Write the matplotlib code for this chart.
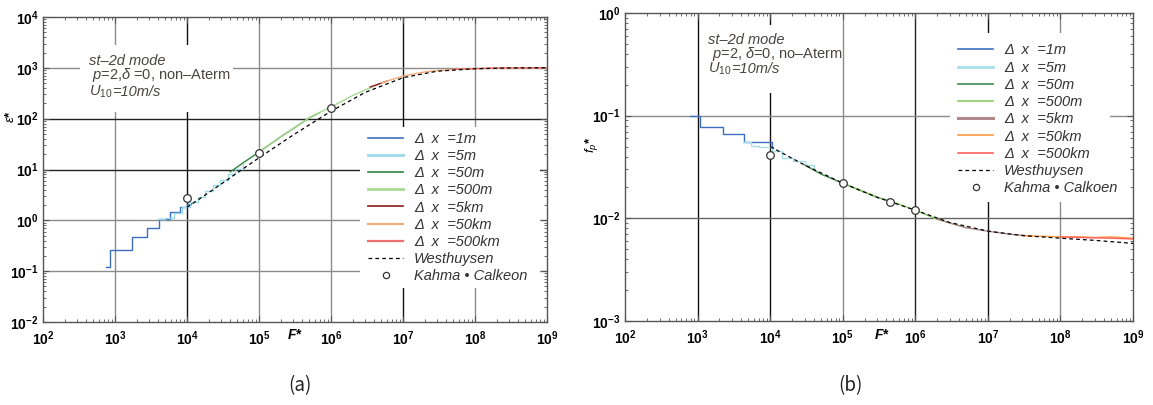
import matplotlib
matplotlib.use('Agg')
import matplotlib.pyplot as plt
from matplotlib.patches import Rectangle
from matplotlib.lines import Line2D

plt.rcParams['font.family'] = ['Liberation Sans', 'DejaVu Sans']
plt.rcParams['mathtext.fontset'] = 'custom'
plt.rcParams['mathtext.rm'] = 'Liberation Sans'
plt.rcParams['mathtext.it'] = 'Liberation Sans:italic'
plt.rcParams['mathtext.bf'] = 'Liberation Sans:bold'

# ---------------- data : panel (a)  epsilon* vs F* ----------------
a_F_1m = [750, 850, 1720, 2760, 4100, 5800, 8000, 10000, 11500]
a_E_1m = [0.12, 0.26, 0.47, 0.72, 1.05, 1.45, 1.86, 2.1, 2.2]
a_F_5m = [4000, 5000, 6500, 8500, 11000, 14000, 18000, 23000, 29000, 37000, 47000, 60000]
a_E_5m = [1.05, 1.1, 1.4, 1.8, 2.3, 2.9, 3.8, 4.9, 6.3, 8.0, 10.2, 13.0]
a_F_50m = [40000, 60000, 100000, 200000, 300000, 500000, 700000]
a_E_50m = [9.0, 13.5, 22.0, 44.0, 64.0, 104.0, 132.0]
a_F_500m = [100000, 200000, 300000, 500000, 700000, 1000000, 1500000, 2000000, 3000000, 5000000]
a_E_500m = [22.0, 44.0, 64.0, 104.0, 132.0, 170.0, 230.0, 285.0, 370.0, 500.0]
a_F_5km = [3500000, 5000000, 6000000]
a_E_5km = [420.0, 500.0, 550.0]
a_F_50km = [5000000, 7000000, 10000000, 20000000, 30000000, 50000000, 100000000, 200000000, 500000000, 1000000000]
a_E_50km = [500.0, 590.0, 690.0, 830.0, 880.0, 930.0, 960.0, 985.0, 995.0, 1000.0]
a_F_500km = [50000000, 100000000, 200000000, 300000000, 500000000, 1000000000]
a_E_500km = [930.0, 965.0, 990.0, 1000.0, 995.0, 1000.0]
a_F_west = [10000, 30000, 100000, 300000, 1000000, 3000000, 10000000, 30000000, 100000000, 300000000, 1000000000]
a_E_west = [1.8, 5.2, 17.0, 48.0, 140.0, 330.0, 640.0, 860.0, 960.0, 995.0, 1005.0]
a_F_kc = [10000, 100000, 1000000]
a_E_kc = [2.7, 21.5, 165.0]

# ---------------- data : panel (b)  fp* vs F* ----------------
b_F_1m = [790, 1080, 2240, 4300, 10500, 11000]
b_P_1m = [0.100, 0.078, 0.066, 0.055, 0.049, 0.048]
b_F_5m = [4200, 5500, 7000, 10500, 14600, 20400, 30000, 40000]
b_P_5m = [0.056, 0.051, 0.049, 0.045, 0.039, 0.036, 0.033, 0.031]
b_F_50m = [30000, 50000, 100000, 200000, 300000, 500000]
b_P_50m = [0.033, 0.027, 0.022, 0.018, 0.016, 0.0144]
b_F_500m = [100000, 200000, 300000, 500000, 1000000, 2000000, 5000000]
b_P_500m = [0.022, 0.018, 0.016, 0.0144, 0.0120, 0.0098, 0.0081]
b_F_5km = [2000000, 5000000, 10000000, 20000000, 40000000]
b_P_5km = [0.0098, 0.0081, 0.0075, 0.0070, 0.0067]
b_F_50km = [30000000, 50000000, 100000000, 200000000, 300000000, 500000000, 1000000000]
b_P_50km = [0.0068, 0.0067, 0.0066, 0.0066, 0.0065, 0.0066, 0.0064]
b_F_500km = [100000000, 200000000, 500000000, 1000000000]
b_P_500km = [0.0066, 0.0065, 0.0064, 0.0063]
b_F_west = [10000, 30000, 100000, 300000, 1000000, 3000000, 10000000, 30000000, 100000000, 300000000, 1000000000]
b_P_west = [0.050, 0.033, 0.022, 0.016, 0.012, 0.0091, 0.0075, 0.0068, 0.0064, 0.0061, 0.0057]
b_F_kc = [10000, 100000, 450000, 1000000]
b_P_kc = [0.041, 0.022, 0.0144, 0.012]

x_ticks = [1e2, 1e3, 1e4, 1e5, 1e6, 1e7, 1e8, 1e9]
x_ticklabels = [r'$\mathbf{10^{%d}}$' % k for k in range(2, 10)]
a_yticks = [1e-2, 1e-1, 1e0, 1e1, 1e2, 1e3, 1e4]
a_yticklabels = [r'$\mathbf{10^{%d}}$' % k for k in range(-2, 5)]
b_yticks = [1e-3, 1e-2, 1e-1, 1e0]
b_yticklabels = [r'$\mathbf{10^{%d}}$' % k for k in range(-3, 1)]

labels = ['Δ  x  =1m', 'Δ  x  =5m', 'Δ  x  =50m', 'Δ  x  =500m', 'Δ  x  =5km', 'Δ  x  =50km', 'Δ  x  =500km']

a_colors = ['#3d6fc0', '#9adbe8', '#2e8540', '#a8da90', '#8a1c1c', '#f5ad7a', '#f07070']
a_leg_lw = [1.2, 2.0, 1.2, 2.0, 1.2, 1.6, 1.6]
b_colors = ['#3d6fc0', '#a8e0ea', '#3f8a52', '#8cca66', '#b08a8a', '#ff9a40', '#ff6060']
b_leg_lw = [1.2, 2.0, 1.2, 1.2, 2.2, 1.2, 1.2]

W, H = 1153, 405
fig = plt.figure(figsize=(W / 100, H / 100), dpi=100)
axa = fig.add_axes([43 / W, 1 - 322 / H, 504 / W, 305 / H])
axb = fig.add_axes([625 / W, 1 - 321 / H, 508 / W, 308 / H])

def setup(ax, ylim, yticks, yticklabels, vcols, hcols):
    ax.set_xscale('log')
    ax.set_yscale('log')
    ax.set_xlim(1e2, 1e9)
    ax.set_ylim(*ylim)
    for xv, c in zip(x_ticks[1:-1], vcols):
        ax.axvline(xv, color=c, lw=1.0, zorder=0.5)
    for yv, c in zip(yticks[1:-1], hcols):
        ax.axhline(yv, color=c, lw=1.0, zorder=0.5)
    ax.set_xticks(x_ticks)
    ax.set_xticklabels(x_ticklabels, fontsize=10)
    ax.set_yticks(yticks)
    ax.set_yticklabels(yticklabels, fontsize=10)
    ax.tick_params(which='both', direction='in', top=True, right=True, colors='#555555', labelcolor='black')
    ax.tick_params(which='major', length=4)
    ax.tick_params(axis='x', which='major', pad=5.5)
    ax.tick_params(axis='y', which='major', pad=3)
    ax.tick_params(which='minor', length=2.5)
    for s in ax.spines.values():
        s.set_color('#555555')
        s.set_linewidth(1.0)

setup(axa, (1e-2, 1e4), a_yticks, a_yticklabels,
      ['#8c8c8c', '#111111', '#8c8c8c', '#8c8c8c', '#111111', '#8c8c8c'],
      ['#8c8c8c', '#8c8c8c', '#222222', '#222222', '#8c8c8c'])
setup(axb, (1e-3, 1e0), b_yticks, b_yticklabels,
      ['#111111', '#111111', '#8c8c8c', '#222222', '#111111', '#8c8c8c'],
      ['#666666', '#8c8c8c'])

# white boxes behind annotation and legend
axa.add_patch(Rectangle((0.073, 0.69), 0.304, 0.218, transform=axa.transAxes, facecolor='white', edgecolor='none', zorder=1))
axa.add_patch(Rectangle((0.629, 0.111), 0.357, 0.528, transform=axa.transAxes, facecolor='white', edgecolor='none', zorder=1))
axb.add_patch(Rectangle((0.157, 0.74), 0.27, 0.221, transform=axb.transAxes, facecolor='white', edgecolor='none', zorder=1))
axb.add_patch(Rectangle((0.640, 0.386), 0.315, 0.549, transform=axb.transAxes, facecolor='white', edgecolor='none', zorder=1))

# series panel a
a_series = [(a_F_1m, a_E_1m, 'steps-post'), (a_F_5m, a_E_5m, 'steps-post'), (a_F_50m, a_E_50m, 'default'),
            (a_F_500m, a_E_500m, 'default'), (a_F_5km, a_E_5km, 'default'), (a_F_50km, a_E_50km, 'default'),
            (a_F_500km, a_E_500km, 'default')]
for (fx, fy, ds), c in zip(a_series, a_colors):
    axa.plot(fx, fy, color=c, lw=1.0, drawstyle=ds, zorder=2)
axa.plot(a_F_west, a_E_west, color='black', lw=0.9, dashes=(3, 2.5), zorder=3)
axa.plot(a_F_kc, a_E_kc, 'o', ms=5.5, mfc='white', mec='#333333', mew=0.9, zorder=4)

b_series = [(b_F_1m, b_P_1m, 'steps-post'), (b_F_5m, b_P_5m, 'steps-post'), (b_F_50m, b_P_50m, 'default'),
            (b_F_500m, b_P_500m, 'default'), (b_F_5km, b_P_5km, 'default'), (b_F_50km, b_P_50km, 'default'),
            (b_F_500km, b_P_500km, 'default')]
for (fx, fy, ds), c in zip(b_series, b_colors):
    axb.plot(fx, fy, color=c, lw=1.0, drawstyle=ds, zorder=2)
axb.plot(b_F_west, b_P_west, color='black', lw=0.9, dashes=(3, 2.5), zorder=3)
axb.plot(b_F_kc, b_P_kc, 'o', ms=5.5, mfc='white', mec='#333333', mew=0.9, zorder=4)

def make_legend(ax, colors, lws, kc_label, anchor):
    hs = [Line2D([], [], color=c, lw=w) for c, w in zip(colors, lws)]
    hs.append(Line2D([], [], color='black', lw=0.9, dashes=(3, 2.5)))
    hs.append(Line2D([], [], ls='none', marker='o', ms=4.5, mfc='white', mec='#333333', mew=0.9))
    leg = ax.legend(hs, labels + ['Westhuysen', kc_label], loc='upper left', bbox_to_anchor=anchor,
                    frameon=False, borderpad=0, borderaxespad=0, handlelength=2.4, handletextpad=0.75,
                    labelspacing=0.22, prop={'style': 'italic', 'size': 10.5}, numpoints=1)
    for t in leg.get_texts():
        t.set_color('#333333')
    leg.set_zorder(5)

make_legend(axa, a_colors, a_leg_lw, 'Kahma • Calkeon', (0.645, 0.624))
make_legend(axb, b_colors, b_leg_lw, 'Kahma • Calkoen', (0.656, 0.901))

# annotation texts
tc = '#4a4440'
fig.text(89 / W, 1 - 61 / H, 'st–2d mode', style='italic', fontsize=10.5, color=tc, va='center', ha='left')
fig.text(92 / W, 1 - 75 / H, r'$\mathit{p}$=2,$\mathit{δ}$ =0, non–Aterm', fontsize=10.5, color=tc, va='center', ha='left')
fig.text(89 / W, 1 - 92 / H, r'$\mathit{U_{10}}$', fontsize=10.5, color=tc, va='center', ha='left')
fig.text(112 / W, 1 - 92 / H, '=10m/s', style='italic', fontsize=10.5, color=tc, va='center', ha='left')

fig.text(708 / W, 1 - 40 / H, 'st–2d mode', style='italic', fontsize=10.5, color=tc, va='center', ha='left')
fig.text(712 / W, 1 - 54 / H, r'$\mathit{p}$=2, $\mathit{δ}$=0, no–Aterm', fontsize=10.5, color=tc, va='center', ha='left')
fig.text(708 / W, 1 - 69 / H, r'$\mathit{U_{10}}$', fontsize=10.5, color=tc, va='center', ha='left')
fig.text(731 / W, 1 - 69 / H, '=10m/s', style='italic', fontsize=10.5, color=tc, va='center', ha='left')

# axis labels
fig.text(10 / W, 1 - 117 / H, r'$\mathit{ε}$*', rotation=90, fontsize=9.5, fontweight='bold', va='center', ha='center')
fig.text(591 / W, 1 - 145 / H, r'$\mathit{f_p}$*', rotation=90, fontsize=9.5, fontweight='bold', va='center', ha='center')
fig.text(295 / W, 1 - 335 / H, 'F*', style='italic', fontsize=10, fontweight='bold', va='center', ha='center')
fig.text(882 / W, 1 - 335 / H, 'F*', style='italic', fontsize=10, fontweight='bold', va='center', ha='center')

# captions
fig.text(300 / W, 1 - 386 / H, '(a)', fontsize=13.5, family=['Noto Sans CJK KR', 'DejaVu Sans'], va='center', ha='center', color='#222222')
fig.text(850 / W, 1 - 386 / H, '(b)', fontsize=13.5, family=['Noto Sans CJK KR', 'DejaVu Sans'], va='center', ha='center', color='#222222')

fig.savefig('out.png', dpi=100)
